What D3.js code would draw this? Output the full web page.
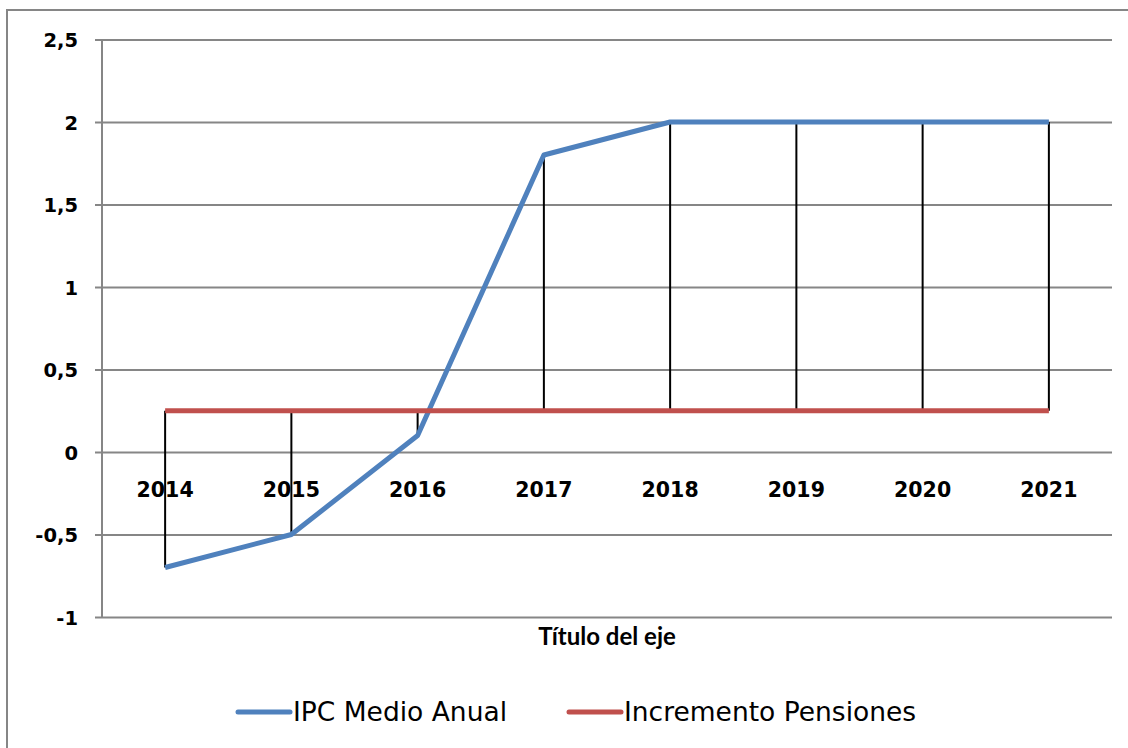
<!DOCTYPE html>
<html><head><meta charset="utf-8">
<script src="https://cdn.jsdelivr.net/npm/d3@7"></script>
<style>html,body{margin:0;padding:0;background:#fff;}svg{display:block;}</style>
</head><body>
<script>
const categories = ["2014","2015","2016","2017","2018","2019","2020","2021"];
const ipc = [-0.7, -0.5, 0.1, 1.8, 2, 2, 2, 2];
const pensiones = [0.25, 0.25, 0.25, 0.25, 0.25, 0.25, 0.25, 0.25];
const yTicks = [-1, -0.5, 0, 0.5, 1, 1.5, 2, 2.5];
const seriesNames = ["IPC Medio Anual", "Incremento Pensiones"];
const colors = ["#4F81BD", "#C0504D"];

(function () {
const W = 1128, H = 748;
const svg = d3.select("body").append("svg").attr("width", W).attr("height", H);
svg.append("rect").attr("x", 7).attr("y", 10).attr("width", W + 10).attr("height", H + 10)
  .attr("fill", "#fff").attr("stroke", "#868686").attr("stroke-width", 2);

const pl = 102, pr = 1112, pt = 39.5, pb = 617;
const x = d3.scaleBand().domain(categories).range([pl, pr]);
const y = d3.scaleLinear().domain([-1, 2.5]).range([pb, pt]);
const fmt = v => String(v).replace(".", ",");

const yAxis = d3.axisLeft(y).tickValues(yTicks).tickSize(7).tickFormat(fmt);
const gy = svg.append("g").attr("transform", `translate(${pl},0)`).call(yAxis);
gy.select(".domain").remove();
gy.selectAll(".tick line").attr("stroke", "#868686").attr("stroke-width", 2)
  .attr("x1", -7).attr("x2", pr - pl);
gy.selectAll(".tick text").attr("x", -24).attr("dy", "0.36em")
  .attr("font-family", "DejaVu Sans").attr("font-weight", "bold").attr("font-size", 19.5).attr("fill", "#000");
svg.append("line").attr("x1", pl).attr("x2", pl).attr("y1", pt).attr("y2", pb)
  .attr("stroke", "#868686").attr("stroke-width", 2);

const cx = d => x(d) + x.bandwidth() / 2;

svg.append("g").selectAll("line").data(categories).join("line")
  .attr("x1", cx).attr("x2", cx)
  .attr("y1", (d, i) => y(ipc[i])).attr("y2", (d, i) => y(pensiones[i]))
  .attr("stroke", "#000").attr("stroke-width", 2);

const xAxis = d3.axisBottom(x).tickSize(0);
const gx = svg.append("g").attr("transform", `translate(0,${y(0)})`).call(xAxis);
gx.select(".domain").remove();
gx.selectAll(".tick text").attr("y", 30).attr("dy", "0.71em")
  .attr("font-family", "DejaVu Sans").attr("font-weight", "bold").attr("font-size", 20.5).attr("fill", "#000");

const line = d3.line().x((d, i) => cx(categories[i])).y(d => y(d));
[ipc, pensiones].forEach((s, k) => {
  svg.append("path").datum(s).attr("d", line).attr("fill", "none")
    .attr("stroke", colors[k]).attr("stroke-width", 5).attr("stroke-linejoin", "round");
});

svg.append("text").attr("x", (pl + pr) / 2).attr("y", 645).attr("text-anchor", "middle")
  .attr("font-family", "Lato").attr("font-weight", "bold").attr("font-size", 24).attr("fill", "#000")
  .text("Título del eje");

const legX = [238, 569];
seriesNames.forEach((n, k) => {
  svg.append("line").attr("x1", legX[k]).attr("x2", legX[k] + 52).attr("y1", 712).attr("y2", 712)
    .attr("stroke", colors[k]).attr("stroke-width", 5).attr("stroke-linecap", "round");
  svg.append("text").attr("x", legX[k] + 55).attr("y", 721)
    .attr("font-family", "DejaVu Sans").attr("font-size", 26.5).attr("fill", "#000")
    .text(n);
});
})();
</script>
</body></html>
